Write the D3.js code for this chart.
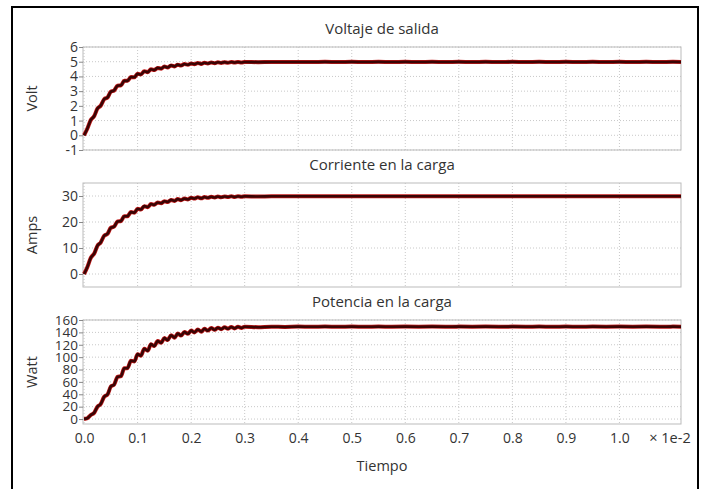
<!DOCTYPE html>
<head>
	<meta charset="utf-8">
	<script src="https://d3js.org/d3.v7.min.js"></script>
	<style>
		body { margin: 0; background: #fff; }
		text { font-family: "Open Sans", "Noto Sans", sans-serif; fill: #333; }
		.title { font-size: 15px; }
		.tick text { font-size: 14px; fill: #333; }
		.lbl { font-size: 14.5px; }
		.grid line { stroke: #c8c8c8; stroke-dasharray: 1,2; }
	</style>
</head>
<body>
	<script>
		// time (x 1e-2)
		var tiempo = [0, 0.006, 0.0125, 0.019, 0.025, 0.031, 0.0375, 0.044, 0.05, 0.056,
			0.0625, 0.069, 0.075, 0.081, 0.0875, 0.094, 0.1, 0.106, 0.1125, 0.119,
			0.125, 0.131, 0.1375, 0.144, 0.15, 0.156, 0.1625, 0.169, 0.175, 0.181,
			0.1875, 0.194, 0.2, 0.206, 0.2125, 0.219, 0.225, 0.231, 0.2375, 0.244,
			0.25, 0.256, 0.2625, 0.269, 0.275, 0.281, 0.2875, 0.294, 0.3,
			0.325, 0.35, 0.375, 0.4, 0.425, 0.45, 0.475, 0.5, 0.525, 0.55, 0.575,
			0.6, 0.625, 0.65, 0.675, 0.7, 0.725, 0.75, 0.775, 0.8, 0.825, 0.85,
			0.875, 0.9, 0.925, 0.95, 0.975, 1.0, 1.025, 1.05, 1.075, 1.1, 1.115];

		var voltaje = [0.00, 0.44, 1.04, 1.31, 1.82, 2.01, 2.45, 2.58, 2.96, 3.04,
			3.37, 3.40, 3.70, 3.70, 3.96, 3.94, 4.18, 4.13, 4.35, 4.29,
			4.49, 4.43, 4.58, 4.53, 4.67, 4.61, 4.75, 4.68, 4.80, 4.74,
			4.84, 4.79, 4.88, 4.83, 4.91, 4.85, 4.93, 4.88, 4.95, 4.90,
			4.96, 4.92, 4.97, 4.93, 4.98, 4.94, 4.98, 4.95, 4.98,
			4.97, 4.98, 4.98, 4.98, 4.98, 4.99, 4.98, 4.99, 4.98, 4.99, 4.98,
			4.99, 4.98, 4.99, 4.98, 4.99, 4.98, 4.99, 4.98, 4.99, 4.98, 4.99,
			4.98, 4.99, 4.98, 4.99, 4.98, 4.99, 4.98, 4.99, 4.98, 4.99, 4.98];

		var corriente = [0.0, 2.6, 6.2, 7.9, 10.9, 12.1, 14.7, 15.5, 17.8, 18.2,
			20.2, 20.4, 22.2, 22.2, 23.8, 23.6, 25.1, 24.8, 26.1, 25.7,
			26.9, 26.6, 27.5, 27.2, 28.0, 27.7, 28.5, 28.1, 28.8, 28.4,
			29.0, 28.7, 29.3, 29.0, 29.5, 29.1, 29.6, 29.3, 29.7, 29.4,
			29.8, 29.5, 29.8, 29.6, 29.9, 29.6, 29.9, 29.7, 29.9,
			29.8, 29.9, 29.9, 29.9, 29.9, 29.9, 29.9, 29.9, 29.9, 29.9, 29.9,
			29.9, 29.9, 29.9, 29.9, 29.9, 29.9, 29.9, 29.9, 29.9, 29.9, 29.9,
			29.9, 29.9, 29.9, 29.9, 29.9, 29.9, 29.9, 29.9, 29.9, 29.9, 29.9];

		var potencia = [0, 1.2, 6.5, 10.3, 19.9, 24.2, 36.0, 39.9, 52.6, 55.4,
			68.1, 69.4, 82.1, 82.1, 94.1, 93.1, 104.8, 102.3, 113.5, 110.4,
			121.0, 117.8, 125.9, 123.1, 130.9, 127.5, 135.4, 131.4, 138.2, 134.8,
			140.6, 137.7, 142.9, 140.0, 144.6, 141.1, 145.8, 142.9, 147.0, 144.1,
			147.6, 145.2, 148.2, 145.8, 148.8, 146.4, 149.0, 147.2, 149.2,
			148.4, 149.2, 148.8, 149.3, 149.0, 149.3, 149.1, 149.3, 149.1, 149.3, 149.1,
			149.3, 149.1, 149.3, 149.1, 149.3, 149.1, 149.3, 149.1, 149.3, 149.1, 149.3,
			149.1, 149.3, 149.1, 149.3, 149.1, 149.3, 149.1, 149.3, 149.1, 149.3, 149.2];

		var xTicks = [0, 0.1, 0.2, 0.3, 0.4, 0.5, 0.6, 0.7, 0.8, 0.9, 1.0];

		var paneles = [
			{ titulo: "Voltaje de salida", unidad: "Volt", valores: voltaje,
				dominio: [-1, 6], ticks: [-1, 0, 1, 2, 3, 4, 5, 6], top: 47, bottom: 150 },
			{ titulo: "Corriente en la carga", unidad: "Amps", valores: corriente,
				dominio: [-5, 35], ticks: [0, 10, 20, 30], top: 183, bottom: 287 },
			{ titulo: "Potencia en la carga", unidad: "Watt", valores: potencia,
				dominio: [-8, 160], ticks: [0, 20, 40, 60, 80, 100, 120, 140, 160], top: 320, bottom: 424 }
		];

		var width = 704;
		var height = 489;
		var left = 83, right = 681;

		var svg = d3.select("body")
			.append("svg")
			.attr("width", width)
			.attr("height", height);

		// outer frame
		svg.append("rect")
			.attr("x", 12).attr("y", 7)
			.attr("width", 686).attr("height", 500)
			.attr("fill", "none")
			.attr("stroke", "#000")
			.attr("stroke-width", 2);

		var xScale = d3.scaleLinear()
			.domain([-0.002, 1.115])
			.range([left, right]);

		paneles.forEach(function(p, i) {
			var yScale = d3.scaleLinear()
				.domain(p.dominio)
				.range([p.bottom, p.top]);

			var g = svg.append("g");

			// grid
			g.append("g").attr("class", "grid")
				.selectAll("line").data(xTicks).enter().append("line")
				.attr("x1", function(d) { return xScale(d); })
				.attr("x2", function(d) { return xScale(d); })
				.attr("y1", p.top).attr("y2", p.bottom);
			g.append("g").attr("class", "grid")
				.selectAll("line").data(p.ticks).enter().append("line")
				.attr("x1", left).attr("x2", right)
				.attr("y1", function(d) { return yScale(d); })
				.attr("y2", function(d) { return yScale(d); });

			// frame
			g.append("rect")
				.attr("x", left).attr("y", p.top)
				.attr("width", right - left).attr("height", p.bottom - p.top)
				.attr("fill", "none")
				.attr("stroke", "#bbb");

			// y axis
			var yAxis = d3.axisLeft(yScale)
				.tickValues(p.ticks)
				.tickFormat(function(d) { return String(d); })
				.tickSize(4)
				.tickPadding(1);
			var ay = g.append("g")
				.attr("transform", "translate(" + [left, 0] + ")")
				.call(yAxis);
			ay.select(".domain").remove();
			ay.selectAll(".tick line").attr("stroke", "#888");
			if (i == 2) ay.selectAll(".tick text").style("font-size", "13.5px");

			// line
			var line = d3.line()
				.x(function(d, k) { return xScale(tiempo[k]); })
				.y(function(d) { return yScale(d); })
				.curve(d3.curveMonotoneX);
			g.append("path")
				.datum(p.valores)
				.attr("d", line)
				.attr("fill", "none")
				.attr("stroke", "#c01818")
				.attr("stroke-width", 4)
				.attr("stroke-linejoin", "round");
			g.append("path")
				.datum(p.valores)
				.attr("d", line)
				.attr("fill", "none")
				.attr("stroke", "#3a0404")
				.attr("stroke-width", 2.6)
				.attr("stroke-linejoin", "round");

			// titles
			g.append("text")
				.attr("class", "title")
				.attr("x", (left + right) / 2)
				.attr("y", p.top - 13)
				.attr("text-anchor", "middle")
				.text(p.titulo);
			g.append("text")
				.attr("class", "lbl")
				.attr("transform", "translate(" + [37, (p.top + p.bottom) / 2] + ") rotate(-90)")
				.attr("text-anchor", "middle")
				.text(p.unidad);

			if (i == 2) {
				var xAxis = d3.axisBottom(xScale)
					.tickValues(xTicks)
					.tickFormat(d3.format(".1f"))
					.tickSize(0)
					.tickPadding(9);
				var ax = g.append("g")
					.attr("transform", "translate(" + [0, p.bottom] + ")")
					.call(xAxis);
				ax.select(".domain").remove();
				g.append("text")
					.attr("class", "lbl")
					.attr("x", 670).attr("y", 443)
					.attr("text-anchor", "middle")
					.text("\u00d7 1e-2");
				g.append("text")
					.attr("class", "lbl")
					.attr("x", (left + right) / 2).attr("y", 471)
					.attr("text-anchor", "middle")
					.text("Tiempo");
			}
		});
	</script>
</body>
</html>
